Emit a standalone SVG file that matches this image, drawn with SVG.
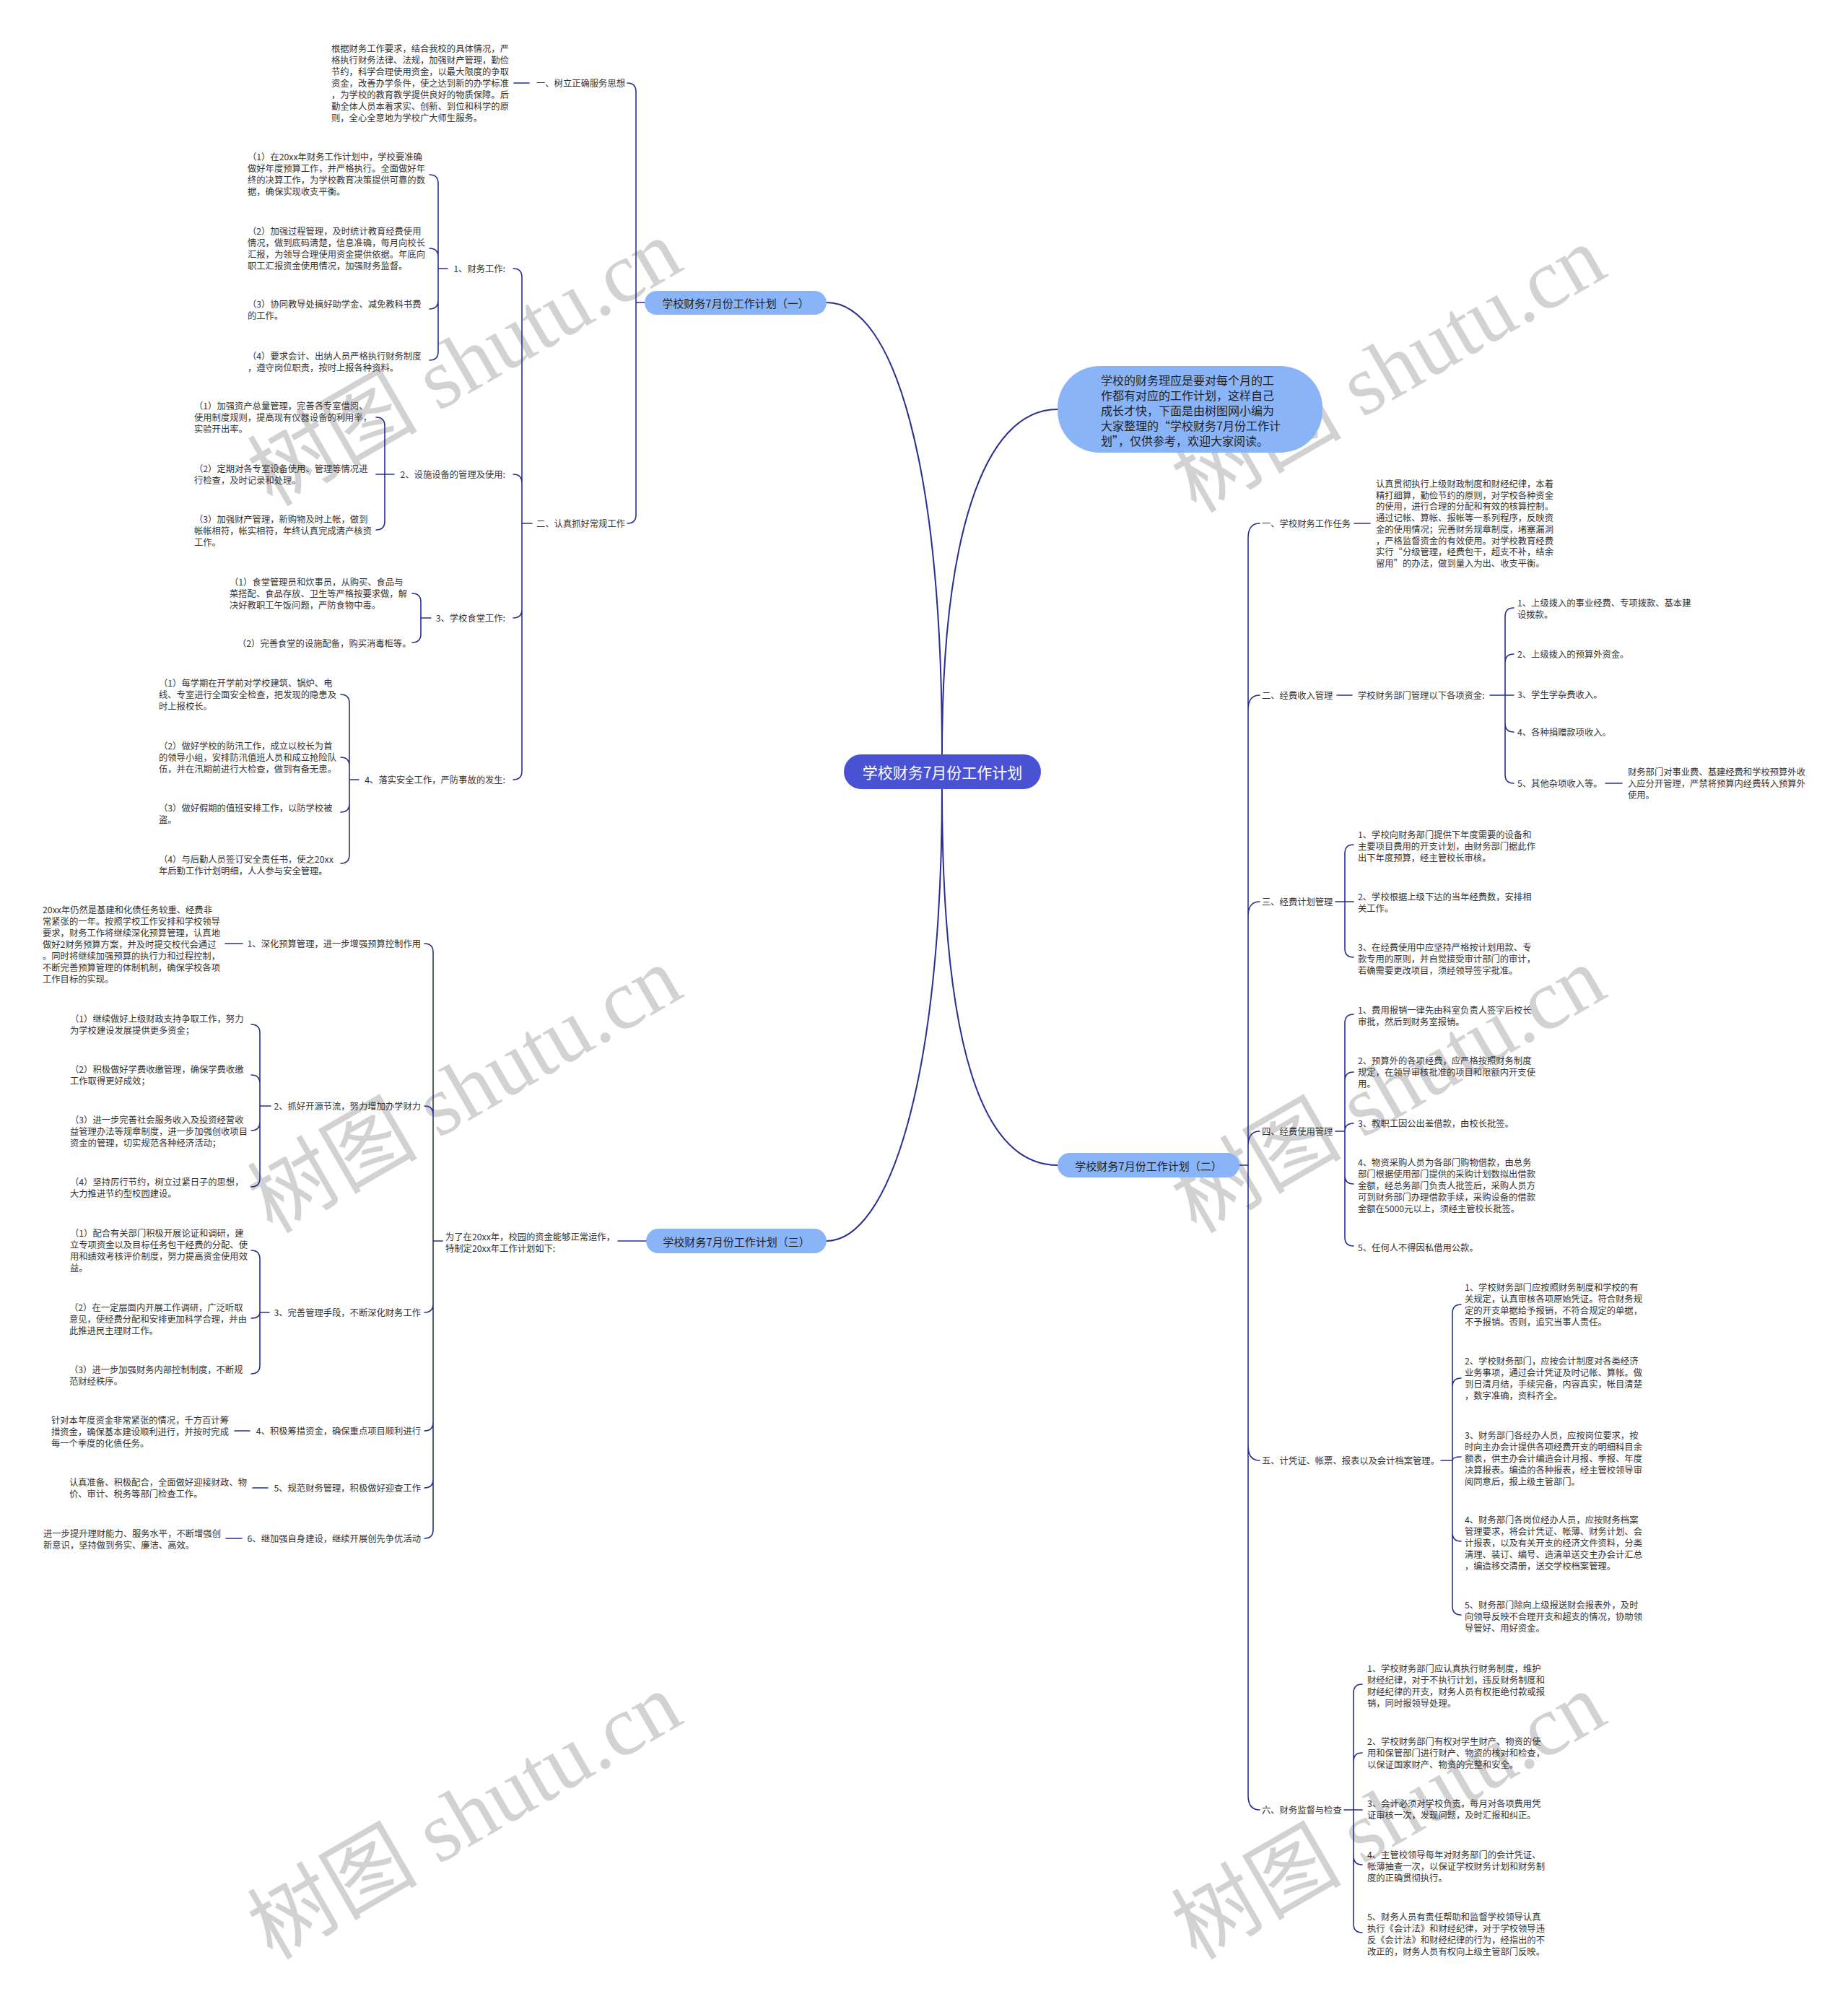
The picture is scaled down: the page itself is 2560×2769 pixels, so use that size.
<svg xmlns="http://www.w3.org/2000/svg" width="2560" height="2769" viewBox="0 0 2560 2769">
<style>
.tx{font-family:"Noto Sans CJK SC","Noto Sans",sans-serif;font-size:12.3px;fill:#333;dominant-baseline:central}
.e{text-anchor:end}
.ln{fill:none;stroke:#2a2f8f;stroke-width:1.6;stroke-linecap:round}
.mn{fill:none;stroke:#2a2f8f;stroke-width:2}
.nd{fill:#8ab4f8}
.nt{font-family:"Noto Sans CJK SC","Noto Sans",sans-serif;font-size:15px;fill:#222;text-anchor:middle;dominant-baseline:central}
.wm{font-family:"Liberation Serif","Noto Sans CJK SC",serif;font-size:118px;fill:#d2d2d2;text-anchor:middle;dominant-baseline:central}
</style>
<rect width="2560" height="2769" fill="#ffffff"/>

<g id="watermarks">
<text class="wm" transform="translate(644,503) rotate(-30)">树图 shutu.cn</text>
<text class="wm" transform="translate(1924,512) rotate(-30)">树图 shutu.cn</text>
<text class="wm" transform="translate(644,1510) rotate(-30)">树图 shutu.cn</text>
<text class="wm" transform="translate(1924,1510) rotate(-30)">树图 shutu.cn</text>
<text class="wm" transform="translate(644,2516) rotate(-30)">树图 shutu.cn</text>
<text class="wm" transform="translate(1924,2516) rotate(-30)">树图 shutu.cn</text>
</g>

<g id="connectors">
<path class="mn" d="M1305,1045 C1305,650 1240,419 1145,419"/>
<path class="mn" d="M1305,1045 C1305,750 1360,567 1465,567"/>
<path class="mn" d="M1305,1092 C1305,1500 1230,1719 1145,1719"/>
<path class="mn" d="M1305,1092 C1305,1450 1360,1614 1465,1614"/>
<path class="ln" d="M893,419 H881 M881,419 V127 Q881,115 869,115 M881,419 V713 Q881,725 869,725 M733,115 H712"/>
<path class="ln" d="M737,725 H723 M723,725 V384 Q723,372 711,372 M723,725 V669 Q723,657 711,657 M723,725 V844 Q723,856 711,856 M723,725 V1068 Q723,1080 711,1080"/>
<path class="ln" d="M620,372 H607 M607,372 V254 Q607,242 595,242 M607,372 V356 Q607,344 595,344 M607,372 V416 Q607,428 595,428 M607,372 V487 Q607,499 595,499"/>
<path class="ln" d="M546,657 H521 M533,657 V590 Q533,578 521,578 M533,657 V722 Q533,734 521,734"/>
<path class="ln" d="M597,856 H583 M583,856 V834 Q583,822 571,822 M583,856 V878 Q583,890 571,890"/>
<path class="ln" d="M497,1080 H484 M484,1080 V974 Q484,962 472,962 M484,1080 V1061 Q484,1049 472,1049 M484,1080 V1113 Q484,1125 472,1125 M484,1080 V1184 Q484,1196 472,1196"/>
<path class="ln" d="M895,1719 H856 M613,1719 H600 M600,1719 V1319 Q600,1307 588,1307 M600,1719 V1544 Q600,1532 588,1532 M600,1719 V1806 Q600,1818 588,1818 M600,1719 V1970 Q600,1982 588,1982 M600,1719 V2049 Q600,2061 588,2061 M600,1719 V2119 Q600,2131 588,2131"/>
<path class="ln" d="M336,1307 H312 M375,1532 H360 M360,1532 V1431 Q360,1419 348,1419 M360,1532 V1501 Q360,1489 348,1489 M360,1532 V1554 Q360,1566 348,1566 M360,1532 V1632 Q360,1644 348,1644"/>
<path class="ln" d="M373,1818 H360 M360,1818 V1744 Q360,1732 348,1732 M360,1818 Q360,1826 348,1826 M360,1818 V1891 Q360,1903 348,1903 M346,1982 H325 M371,2061 H350 M335,2131 H313"/>
<path class="ln" d="M1717,1614 H1729 M1729,1614 V745 Q1729,725 1745,725 M1729,1614 V983 Q1729,963 1745,963 M1729,1614 V1269 Q1729,1249 1745,1249 M1729,1614 V1587 Q1729,1567 1745,1567 M1729,1614 V2003 Q1729,2023 1745,2023 M1729,1614 V2487 Q1729,2507 1745,2507"/>
<path class="ln" d="M1876,725 H1898 M1852,963 H1873 M2064,963 H2097 M2085,963 V854 Q2085,842 2097,842 M2085,963 V918 Q2085,906 2097,906 M2085,963 V1002 Q2085,1014 2097,1014 M2085,963 V1073 Q2085,1085 2097,1085 M2224,1085 H2247"/>
<path class="ln" d="M1850,1249 H1875 M1863,1249 V1182 Q1863,1170 1875,1170 M1863,1249 V1314 Q1863,1326 1875,1326"/>
<path class="ln" d="M1850,1567 H1863 M1863,1567 V1417 Q1863,1405 1875,1405 M1863,1567 V1497 Q1863,1485 1875,1485 M1863,1567 Q1863,1556 1875,1556 M1863,1567 V1628 Q1863,1640 1875,1640 M1863,1567 V1714 Q1863,1726 1875,1726"/>
<path class="ln" d="M1996,2023 H2012 M2012,2023 V1819 Q2012,1807 2024,1807 M2012,2023 V1921 Q2012,1909 2024,1909 M2012,2023 Q2012,2018 2024,2018 M2012,2023 V2123 Q2012,2135 2024,2135 M2012,2023 V2225 Q2012,2237 2024,2237"/>
<path class="ln" d="M1862,2507 H1887 M1875,2507 V2345 Q1875,2333 1887,2333 M1875,2507 V2440 Q1875,2428 1887,2428 M1875,2507 V2571 Q1875,2583 1887,2583 M1875,2507 V2665 Q1875,2677 1887,2677"/>
</g>

<g id="center">
<rect x="1169" y="1045" width="273" height="48" rx="24" fill="#4a52d4"/>
<text x="1305.5" y="1069" style="font-family:'Noto Sans CJK SC','Noto Sans',sans-serif;font-size:21px;fill:#fff;text-anchor:middle;dominant-baseline:central">学校财务7月份工作计划</text>
</g>

<g id="intro">
<rect x="1465" y="507" width="367" height="120" rx="58" class="nd"/>
<text style="font-family:'Noto Sans CJK SC','Noto Sans',sans-serif;font-size:16px;fill:#222;dominant-baseline:central" x="1525" y="526"><tspan x="1525">学校的财务理应是要对每个月的工</tspan><tspan x="1525" dy="21">作都有对应的工作计划，这样自己</tspan><tspan x="1525" dy="21">成长才快，下面是由树图网小编为</tspan><tspan x="1525" dy="21">大家整理的“学校财务7月份工作计</tspan><tspan x="1525" dy="21">划”，仅供参考，欢迎大家阅读。</tspan></text>
</g>

<g id="branch1">
<rect x="893" y="403" width="252" height="33" rx="16.5" class="nd"/>
<text class="nt" x="1019" y="419.5">学校财务7月份工作计划（一）</text>
</g>
<g id="branch2">
<rect x="1465" y="1597" width="252" height="34" rx="17" class="nd"/>
<text class="nt" x="1591" y="1614">学校财务7月份工作计划（二）</text>
</g>
<g id="branch3">
<rect x="895" y="1702" width="250" height="34" rx="17" class="nd"/>
<text class="nt" x="1020" y="1719">学校财务7月份工作计划（三）</text>
</g>

<g id="b1-items">
<text class="tx" x="459" y="67"><tspan x="459">根据财务工作要求，结合我校的具体情况，严</tspan><tspan x="459" dy="16">格执行财务法律、法规，加强财产管理，勤俭</tspan><tspan x="459" dy="16">节约，科学合理使用资金，以最大限度的争取</tspan><tspan x="459" dy="16">资金，改善办学条件，使之达到新的办学标准</tspan><tspan x="459" dy="16">，为学校的教育教学提供良好的物质保障。后</tspan><tspan x="459" dy="16">勤全体人员本着求实、创新、到位和科学的原</tspan><tspan x="459" dy="16">则，全心全意地为学校广大师生服务。</tspan></text>
<text class="tx e" x="866" y="115">一、树立正确服务思想</text>
<text class="tx e" x="866" y="725">二、认真抓好常规工作</text>
<text class="tx e" x="700" y="372">1、财务工作:</text>
<text class="tx e" x="700" y="657">2、设施设备的管理及使用:</text>
<text class="tx e" x="700" y="856">3、学校食堂工作:</text>
<text class="tx e" x="700" y="1080">4、落实安全工作，严防事故的发生:</text>
<text class="tx" x="343" y="217"><tspan x="343">（1）在20xx年财务工作计划中，学校要准确</tspan><tspan x="343" dy="16">做好年度预算工作，并严格执行。全面做好年</tspan><tspan x="343" dy="16">终的决算工作，为学校教育决策提供可靠的数</tspan><tspan x="343" dy="16">据，确保实现收支平衡。</tspan></text>
<text class="tx" x="343" y="320"><tspan x="343">（2）加强过程管理，及时统计教育经费使用</tspan><tspan x="343" dy="16">情况，做到底码清楚，信息准确，每月向校长</tspan><tspan x="343" dy="16">汇报，为领导合理使用资金提供依据。年底向</tspan><tspan x="343" dy="16">职工汇报资金使用情况，加强财务监督。</tspan></text>
<text class="tx" x="343" y="421"><tspan x="343">（3）协同教导处搞好助学金、减免教科书费</tspan><tspan x="343" dy="16">的工作。</tspan></text>
<text class="tx" x="343" y="493"><tspan x="343">（4）要求会计、出纳人员严格执行财务制度</tspan><tspan x="343" dy="16">，遵守岗位职责，按时上报各种资料。</tspan></text>
<text class="tx" x="269" y="562"><tspan x="269">（1）加强资产总量管理，完善各专室借阅、</tspan><tspan x="269" dy="16">使用制度规则，提高现有仪器设备的利用率，</tspan><tspan x="269" dy="16">实验开出率。</tspan></text>
<text class="tx" x="269" y="649"><tspan x="269">（2）定期对各专室设备使用、管理等情况进</tspan><tspan x="269" dy="16">行检查，及时记录和处理。</tspan></text>
<text class="tx" x="269" y="719"><tspan x="269">（3）加强财产管理，新购物及时上帐，做到</tspan><tspan x="269" dy="16">帐帐相符，帐实相符，年终认真完成清产核资</tspan><tspan x="269" dy="16">工作。</tspan></text>
<text class="tx" x="318" y="806"><tspan x="318">（1）食堂管理员和炊事员，从购买、食品与</tspan><tspan x="318" dy="16">菜搭配、食品存放、卫生等严格按要求做，解</tspan><tspan x="318" dy="16">决好教职工午饭问题，严防食物中毒。</tspan></text>
<text class="tx" x="329" y="891">（2）完善食堂的设施配备，购买消毒柜等。</text>
<text class="tx" x="220" y="946"><tspan x="220">（1）每学期在开学前对学校建筑、锅炉、电</tspan><tspan x="220" dy="16">线、专室进行全面安全检查，把发现的隐患及</tspan><tspan x="220" dy="16">时上报校长。</tspan></text>
<text class="tx" x="220" y="1033"><tspan x="220">（2）做好学校的防汛工作，成立以校长为首</tspan><tspan x="220" dy="16">的领导小组，安排防汛值班人员和成立抢险队</tspan><tspan x="220" dy="16">伍，并在汛期前进行大检查，做到有备无患。</tspan></text>
<text class="tx" x="220" y="1119"><tspan x="220">（3）做好假期的值班安排工作，以防学校被</tspan><tspan x="220" dy="16">盗。</tspan></text>
<text class="tx" x="220" y="1190"><tspan x="220">（4）与后勤人员签订安全责任书，使之20xx</tspan><tspan x="220" dy="16">年后勤工作计划明细，人人参与安全管理。</tspan></text>
</g>

<g id="b3-items">
<text class="tx" x="617" y="1713"><tspan x="617">为了在20xx年，校园的资金能够正常运作，</tspan><tspan x="617" dy="16">特制定20xx年工作计划如下:</tspan></text>
<text class="tx e" x="583" y="1307">1、深化预算管理，进一步增强预算控制作用</text>
<text class="tx e" x="583" y="1532">2、抓好开源节流，努力增加办学财力</text>
<text class="tx e" x="583" y="1818">3、完善管理手段，不断深化财务工作</text>
<text class="tx e" x="583" y="1982">4、积极筹措资金，确保重点项目顺利进行</text>
<text class="tx e" x="583" y="2061">5、规范财务管理，积极做好迎查工作</text>
<text class="tx e" x="583" y="2131">6、继加强自身建设，继续开展创先争优活动</text>
<text class="tx" x="59" y="1260"><tspan x="59">20xx年仍然是基建和化债任务较重、经费非</tspan><tspan x="59" dy="16">常紧张的一年。按照学校工作安排和学校领导</tspan><tspan x="59" dy="16">要求，财务工作将继续深化预算管理，认真地</tspan><tspan x="59" dy="16">做好2财务预算方案，并及时提交校代会通过</tspan><tspan x="59" dy="16">。同时将继续加强预算的执行力和过程控制，</tspan><tspan x="59" dy="16">不断完善预算管理的体制机制，确保学校各项</tspan><tspan x="59" dy="16">工作目标的实现。</tspan></text>
<text class="tx" x="97" y="1411"><tspan x="97">（1）继续做好上级财政支持争取工作，努力</tspan><tspan x="97" dy="16">为学校建设发展提供更多资金；</tspan></text>
<text class="tx" x="97" y="1481"><tspan x="97">（2）积极做好学费收缴管理，确保学费收缴</tspan><tspan x="97" dy="16">工作取得更好成效；</tspan></text>
<text class="tx" x="97" y="1551"><tspan x="97">（3）进一步完善社会服务收入及投资经营收</tspan><tspan x="97" dy="16">益管理办法等规章制度，进一步加强创收项目</tspan><tspan x="97" dy="16">资金的管理，切实规范各种经济活动；</tspan></text>
<text class="tx" x="97" y="1637"><tspan x="97">（4）坚持厉行节约，树立过紧日子的思想，</tspan><tspan x="97" dy="16">大力推进节约型校园建设。</tspan></text>
<text class="tx" x="97" y="1708"><tspan x="97">（1）配合有关部门积极开展论证和调研，建</tspan><tspan x="97" dy="16">立专项资金以及目标任务包干经费的分配、使</tspan><tspan x="97" dy="16">用和绩效考核评价制度，努力提高资金使用效</tspan><tspan x="97" dy="16">益。</tspan></text>
<text class="tx" x="96" y="1811"><tspan x="96">（2）在一定层面内开展工作调研，广泛听取</tspan><tspan x="96" dy="16">意见，使经费分配和安排更加科学合理，并由</tspan><tspan x="96" dy="16">此推进民主理财工作。</tspan></text>
<text class="tx" x="96" y="1897"><tspan x="96">（3）进一步加强财务内部控制制度，不断规</tspan><tspan x="96" dy="16">范财经秩序。</tspan></text>
<text class="tx" x="71" y="1967"><tspan x="71">针对本年度资金非常紧张的情况，千方百计筹</tspan><tspan x="71" dy="16">措资金，确保基本建设顺利进行，并按时完成</tspan><tspan x="71" dy="16">每一个季度的化债任务。</tspan></text>
<text class="tx" x="96" y="2053"><tspan x="96">认真准备、积极配合，全面做好迎接财政、物</tspan><tspan x="96" dy="16">价、审计、税务等部门检查工作。</tspan></text>
<text class="tx" x="60" y="2124"><tspan x="60">进一步提升理财能力、服务水平，不断增强创</tspan><tspan x="60" dy="16">新意识，坚持做到务实、廉洁、高效。</tspan></text>
</g>

<g id="b2-items">
<text class="tx" x="1748" y="725">一、学校财务工作任务</text>
<text class="tx" x="1748" y="963">二、经费收入管理</text>
<text class="tx" x="1748" y="1249">三、经费计划管理</text>
<text class="tx" x="1748" y="1567">四、经费使用管理</text>
<text class="tx" x="1748" y="2023">五、计凭证、帐票、报表以及会计档案管理。</text>
<text class="tx" x="1748" y="2507">六、财务监督与检查</text>
<text class="tx" x="1906" y="670"><tspan x="1906">认真贯彻执行上级财政制度和财经纪律，本着</tspan><tspan x="1906" dy="15.7">精打细算，勤俭节约的原则，对学校各种资金</tspan><tspan x="1906" dy="15.7">的使用，进行合理的分配和有效的核算控制。</tspan><tspan x="1906" dy="15.7">通过记帐、算帐、报帐等一系列程序，反映资</tspan><tspan x="1906" dy="15.7">金的使用情况；完善财务规章制度，堵塞漏洞</tspan><tspan x="1906" dy="15.7">，严格监督资金的有效使用。对学校教育经费</tspan><tspan x="1906" dy="15.7">实行“分级管理，经费包干，超支不补，结余</tspan><tspan x="1906" dy="15.7">留用”的办法，做到量入为出、收支平衡。</tspan></text>
<text class="tx" x="1881" y="963">学校财务部门管理以下各项资金:</text>
<text class="tx" x="2102" y="835"><tspan x="2102">1、上级拨入的事业经费、专项拨款、基本建</tspan><tspan x="2102" dy="16">设拨款。</tspan></text>
<text class="tx" x="2102" y="906">2、上级拨入的预算外资金。</text>
<text class="tx" x="2102" y="962">3、学生学杂费收入。</text>
<text class="tx" x="2102" y="1014">4、各种捐赠款项收入。</text>
<text class="tx" x="2102" y="1085">5、其他杂项收入等。</text>
<text class="tx" x="2255" y="1069"><tspan x="2255">财务部门对事业费、基建经费和学校预算外收</tspan><tspan x="2255" dy="16">入应分开管理，严禁将预算内经费转入预算外</tspan><tspan x="2255" dy="16">使用。</tspan></text>
<text class="tx" x="1881" y="1156"><tspan x="1881">1、学校向财务部门提供下年度需要的设备和</tspan><tspan x="1881" dy="16">主要项目费用的开支计划，由财务部门据此作</tspan><tspan x="1881" dy="16">出下年度预算，经主管校长审核。</tspan></text>
<text class="tx" x="1881" y="1242"><tspan x="1881">2、学校根据上级下达的当年经费数，安排相</tspan><tspan x="1881" dy="16">关工作。</tspan></text>
<text class="tx" x="1881" y="1312"><tspan x="1881">3、在经费使用中应坚持严格按计划用款、专</tspan><tspan x="1881" dy="16">款专用的原则，并自觉接受审计部门的审计，</tspan><tspan x="1881" dy="16">若确需要更改项目，须经领导签字批准。</tspan></text>
<text class="tx" x="1881" y="1399"><tspan x="1881">1、费用报销一律先由科室负责人签字后校长</tspan><tspan x="1881" dy="16">审批，然后到财务室报销。</tspan></text>
<text class="tx" x="1881" y="1469"><tspan x="1881">2、预算外的各项经费，应严格按照财务制度</tspan><tspan x="1881" dy="16">规定，在领导审核批准的项目和限额内开支使</tspan><tspan x="1881" dy="16">用。</tspan></text>
<text class="tx" x="1881" y="1556">3、教职工因公出差借款，由校长批签。</text>
<text class="tx" x="1881" y="1610"><tspan x="1881">4、物资采购人员为各部门购物借款，由总务</tspan><tspan x="1881" dy="16">部门根据使用部门提供的采购计划数拟出借款</tspan><tspan x="1881" dy="16">金额，经总务部门负责人批签后，采购人员方</tspan><tspan x="1881" dy="16">可到财务部门办理借款手续，采购设备的借款</tspan><tspan x="1881" dy="16">金额在5000元以上，须经主管校长批签。</tspan></text>
<text class="tx" x="1881" y="1728">5、任何人不得因私借用公款。</text>
<text class="tx" x="2029" y="1783"><tspan x="2029">1、学校财务部门应按照财务制度和学校的有</tspan><tspan x="2029" dy="16">关规定，认真审核各项原始凭证。符合财务规</tspan><tspan x="2029" dy="16">定的开支单据给予报销，不符合规定的单据，</tspan><tspan x="2029" dy="16">不予报销。否则，追究当事人责任。</tspan></text>
<text class="tx" x="2029" y="1885"><tspan x="2029">2、学校财务部门，应按会计制度对各类经济</tspan><tspan x="2029" dy="16">业务事项，通过会计凭证及时记帐、算帐。做</tspan><tspan x="2029" dy="16">到日清月结，手续完备，内容真实，帐目清楚</tspan><tspan x="2029" dy="16">，数字准确，资料齐全。</tspan></text>
<text class="tx" x="2029" y="1988"><tspan x="2029">3、财务部门各经办人员，应按岗位要求，按</tspan><tspan x="2029" dy="16">时向主办会计提供各项经费开支的明细科目余</tspan><tspan x="2029" dy="16">额表，供主办会计编造会计月报、季报、年度</tspan><tspan x="2029" dy="16">决算报表。编造的各种报表，经主管校领导审</tspan><tspan x="2029" dy="16">阅同意后，报上级主管部门。</tspan></text>
<text class="tx" x="2029" y="2105"><tspan x="2029">4、财务部门各岗位经办人员，应按财务档案</tspan><tspan x="2029" dy="16">管理要求，将会计凭证、帐薄、财务计划、会</tspan><tspan x="2029" dy="16">计报表，以及有关开支的经济文件资料，分类</tspan><tspan x="2029" dy="16">清理、装订、编号、造清单送交主办会计汇总</tspan><tspan x="2029" dy="16">，编造移交清册，送交学校档案管理。</tspan></text>
<text class="tx" x="2029" y="2223"><tspan x="2029">5、财务部门除向上级报送财会报表外，及时</tspan><tspan x="2029" dy="16">向领导反映不合理开支和超支的情况，协助领</tspan><tspan x="2029" dy="16">导管好、用好资金。</tspan></text>
<text class="tx" x="1894" y="2311"><tspan x="1894">1、学校财务部门应认真执行财务制度，维护</tspan><tspan x="1894" dy="16">财经纪律，对于不执行计划，违反财务制度和</tspan><tspan x="1894" dy="16">财经纪律的开支，财务人员有权拒绝付款或报</tspan><tspan x="1894" dy="16">销，同时报领导处理。</tspan></text>
<text class="tx" x="1894" y="2412"><tspan x="1894">2、学校财务部门有权对学生财产、物资的使</tspan><tspan x="1894" dy="16">用和保管部门进行财产、物资的核对和检查，</tspan><tspan x="1894" dy="16">以保证国家财产、物资的完整和安全。</tspan></text>
<text class="tx" x="1894" y="2498"><tspan x="1894">3、会计必须对学校负责，每月对各项费用凭</tspan><tspan x="1894" dy="16">证审核一次，发现问题，及时汇报和纠正。</tspan></text>
<text class="tx" x="1894" y="2569"><tspan x="1894">4、主管校领导每年对财务部门的会计凭证、</tspan><tspan x="1894" dy="16">帐薄抽查一次，以保证学校财务计划和财务制</tspan><tspan x="1894" dy="16">度的正确贯彻执行。</tspan></text>
<text class="tx" x="1894" y="2655"><tspan x="1894">5、财务人员有责任帮助和监督学校领导认真</tspan><tspan x="1894" dy="16">执行《会计法》和财经纪律，对于学校领导违</tspan><tspan x="1894" dy="16">反《会计法》和财经纪律的行为，经指出的不</tspan><tspan x="1894" dy="16">改正的，财务人员有权向上级主管部门反映。</tspan></text>
</g>
</svg>
